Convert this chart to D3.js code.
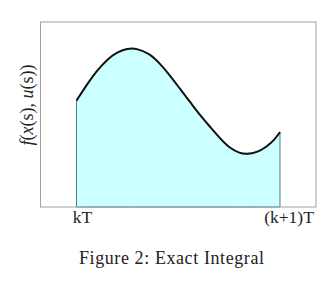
<!DOCTYPE html>
<html>
<head>
<meta charset="utf-8">
<script src="https://cdn.jsdelivr.net/npm/d3@7"></script>
<style>
  body { margin: 0; background: #fff; }
  text { font-family: "Liberation Serif", "DejaVu Serif", serif; fill: #222; }
</style>
</head>
<body>
<div id="chart"></div>
<script>
// curve samples, t in [0,1] spans kT .. (k+1)T
const tValues = [0, 0.053, 0.102, 0.151, 0.200, 0.250, 0.292, 0.361, 0.410, 0.459, 0.508, 0.558, 0.607, 0.656, 0.705, 0.754, 0.803, 0.836, 0.886, 0.935, 0.975, 1.0];
const fValues = [0.575, 0.666, 0.739, 0.798, 0.838, 0.856, 0.859, 0.829, 0.775, 0.712, 0.639, 0.568, 0.496, 0.434, 0.371, 0.317, 0.290, 0.285, 0.294, 0.326, 0.366, 0.405];
const tickValues = [0, 1];
const tickLabels = ['kT', '(k+1)T'];
const caption = 'Figure 2: Exact Integral';

const width = 334, height = 287;
const margin = { top: 22, right: 18, bottom: 80, left: 40.5 };

const svg = d3.select('#chart').append('svg')
    .attr('width', width)
    .attr('height', height);

const x = d3.scaleLinear()
    .domain([-0.177, 1.177])
    .range([margin.left, width - margin.right]);
const y = d3.scaleLinear()
    .domain([0, 1])
    .range([height - margin.bottom, margin.top]);

const data = tValues.map((t, i) => ({ t: t, v: fValues[i] }));

const area = d3.area()
    .x(d => x(d.t))
    .y0(y(0))
    .y1(d => y(d.v))
    .curve(d3.curveBasis);
const line = d3.line()
    .x(d => x(d.t))
    .y(d => y(d.v))
    .curve(d3.curveBasis);

// shaded integral
svg.append('path')
    .datum(data)
    .attr('d', area)
    .attr('fill', '#ccffff')
    .attr('stroke', '#4d7f7f')
    .attr('stroke-width', 1);

// frame
svg.append('rect')
    .attr('x', x.range()[0])
    .attr('y', y.range()[1])
    .attr('width', x.range()[1] - x.range()[0])
    .attr('height', y.range()[0] - y.range()[1])
    .attr('fill', 'none')
    .attr('stroke', '#a0a0a0')
    .attr('stroke-width', 1);

svg.append('path')
    .datum(data)
    .attr('d', line)
    .attr('fill', 'none')
    .attr('stroke', '#111')
    .attr('stroke-width', 2);

// tick labels
svg.append('g')
    .selectAll('text')
    .data(tickValues)
    .enter().append('text')
    .attr('x', (d, i) => x(d) + (i ? 9 : 6))
    .attr('y', y(0) + 15.5)
    .attr('text-anchor', 'middle')
    .attr('font-size', 17.5)
    .text((d, i) => tickLabels[i]);

// y label f(x(s), u(s))
const ylab = svg.append('text')
    .attr('transform', 'translate(' + 33 + ',' + 105 + ') rotate(-90)')
    .attr('text-anchor', 'middle')
    .attr('font-size', 18)
    .attr('fill', '#555');
[['f', true], ['(', false], ['x', true], ['(s), ', false], ['u', true], ['(s))', false]]
    .forEach(p => ylab.append('tspan').attr('font-style', p[1] ? 'italic' : 'normal').text(p[0]));

svg.append('text')
    .attr('x', 171.5)
    .attr('y', 264)
    .attr('text-anchor', 'middle')
    .attr('font-size', 18)
    .attr('textLength', 185)
    .attr('lengthAdjust', 'spacing')
    .text(caption);
</script>
</body>
</html>
